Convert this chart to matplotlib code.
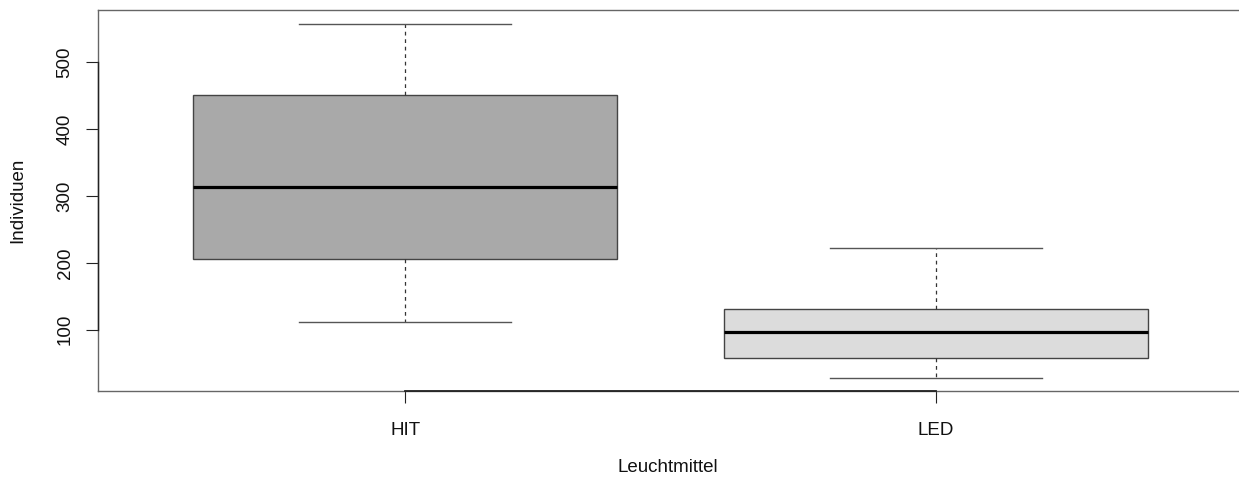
import matplotlib
matplotlib.use("Agg")
import matplotlib.pyplot as plt

plt.rcParams['font.family'] = ['Liberation Sans', 'DejaVu Sans']

# five-number summaries
groups = ["HIT", "LED"]
whislo = [111, 28]
q1 = [205, 57]
med = [313, 97]
q3 = [451, 131]
whishi = [557, 222]
fills = ["#a9a9a9", "#dcdcdc"]

W, H = 1239, 479
fig = plt.figure(figsize=(W / 100, H / 100), dpi=100)
# axes frame in pixels: left 98, right ~1243 (just past the edge), top 10, bottom 391
ax = fig.add_axes([98 / W, (H - 391) / H, (1243 - 98) / W, (391 - 10) / H])

stats = []
for i, g in enumerate(groups):
    stats.append(dict(label=g, whislo=whislo[i], q1=q1[i], med=med[i],
                      q3=q3[i], whishi=whishi[i], fliers=[]))

bp = ax.bxp(stats, positions=[1, 2], widths=0.8, patch_artist=True,
            showfliers=False,
            boxprops=dict(edgecolor="#444444", linewidth=1.0),
            medianprops=dict(color="black", linewidth=2.3, solid_capstyle="butt"),
            whiskerprops=dict(color="#333333", linewidth=0.9, linestyle=(0, (3, 3))),
            capprops=dict(color="#555555", linewidth=1.0))
for patch, c in zip(bp["boxes"], fills):
    patch.set_facecolor(c)
for cap in bp["caps"]:
    # R caps are half the box width
    xd = cap.get_xdata()
    mid = (xd[0] + xd[1]) / 2
    cap.set_xdata([mid - 0.2, mid + 0.2])

ax.set_xlim(0.42, 2.58)
ax.set_ylim(8.1, 578.3)

for s in ax.spines.values():
    s.set_color("#666666")
    s.set_linewidth(1.0)

ax.set_yticks([100, 200, 300, 400, 500])
ax.set_yticklabels(["100", "200", "300", "400", "500"], rotation=90, va="center")
ax.set_xticks([1, 2])
ax.set_xticklabels(groups)
ax.tick_params(axis="both", length=8.5, width=0.8, color="#222222",
               labelsize=13.5, labelcolor="#111111")
ax.tick_params(axis="y", pad=9)
ax.tick_params(axis="x", pad=14)

# R-style axis lines from first to last tick
ax.plot([0.42, 0.42], [100, 500], color="#222222", lw=1.0, clip_on=False, zorder=5)
ax.plot([1, 2], [8.1, 8.1], color="#222222", lw=1.3, clip_on=False, zorder=5)

fig.text(18 / W, 1 - 200 / H, "Individuen", rotation=90, ha="center", va="center",
         fontsize=13.5, color="#111111")
fig.text((98 + 1237) / 2 / W, 1 - 468 / H, "Leuchtmittel", ha="center", va="center",
         fontsize=13.5, color="#111111")

fig.savefig("out.png", dpi=100)
